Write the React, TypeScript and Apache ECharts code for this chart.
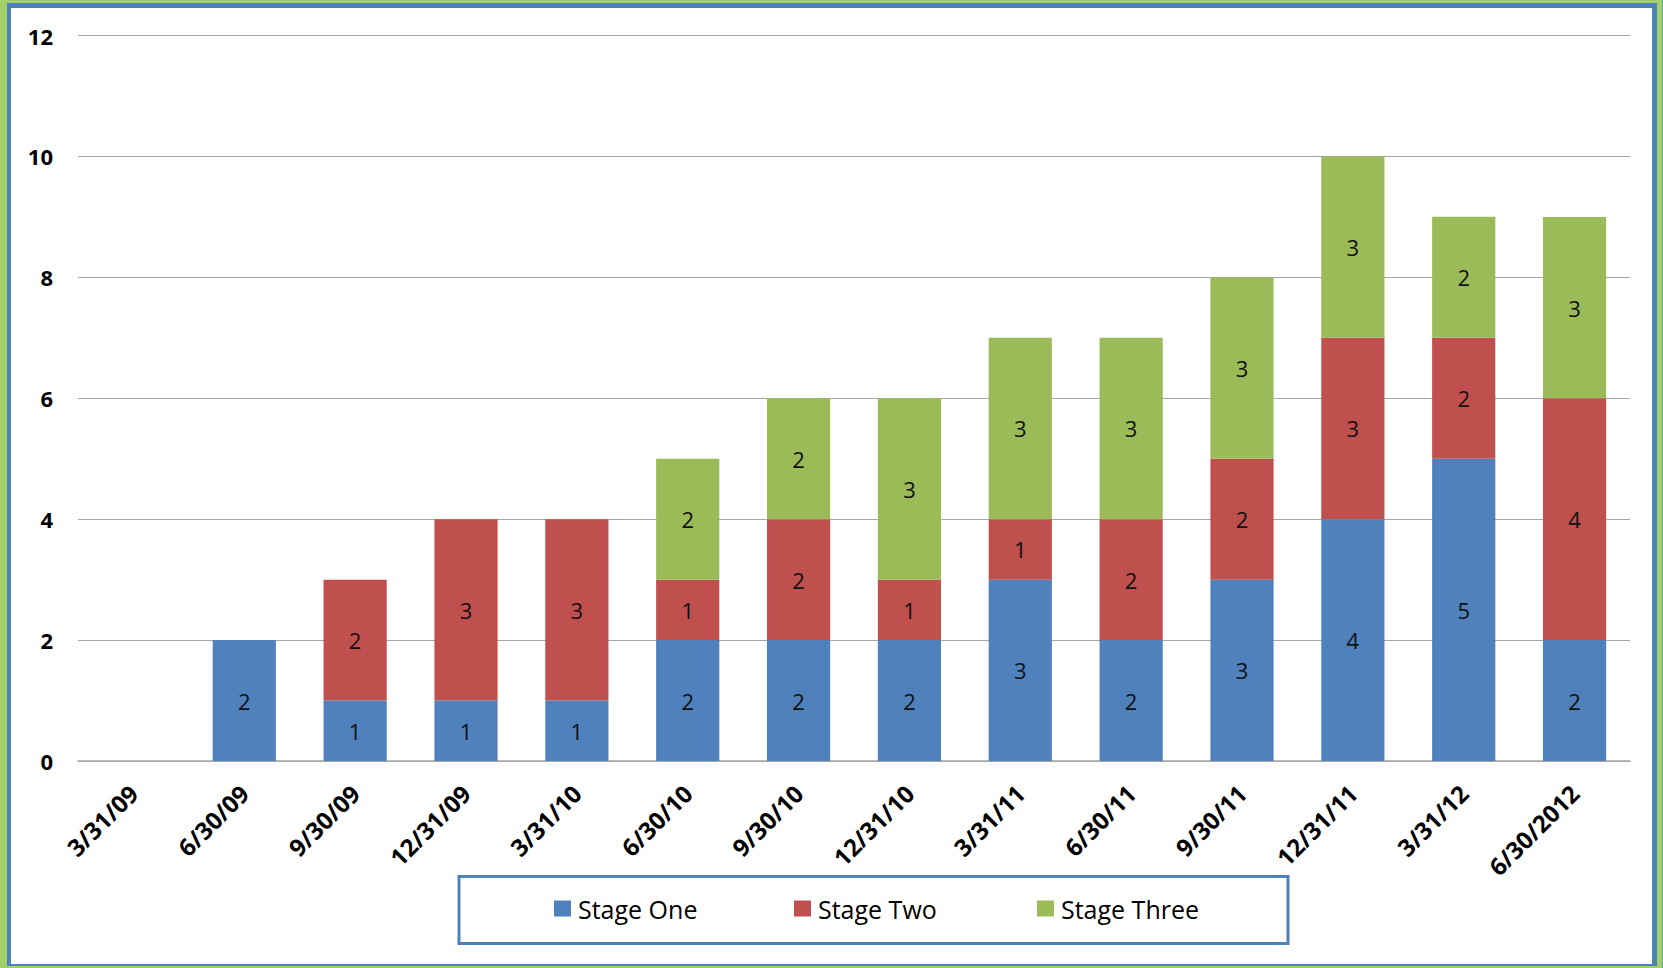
import React, { useEffect, useRef } from "react";
import * as echarts from "echarts";

const categories = [
  "3/31/09", "6/30/09", "9/30/09", "12/31/09", "3/31/10", "6/30/10", "9/30/10",
  "12/31/10", "3/31/11", "6/30/11", "9/30/11", "12/31/11", "3/31/12", "6/30/2012",
];
const stageOne = [0, 2, 1, 1, 1, 2, 2, 2, 3, 2, 3, 4, 5, 2];
const stageTwo = [0, 0, 2, 3, 3, 1, 2, 1, 1, 2, 2, 3, 2, 4];
const stageThree = [0, 0, 0, 0, 0, 2, 2, 3, 3, 3, 3, 3, 2, 3];
const seriesNames = ["Stage One", "Stage Two", "Stage Three"];
const yTicks = { min: 0, max: 12, interval: 2 };

const COLORS = ["#4F81BD", "#C0504D", "#9BBB59"];
const FONT = "'Open Sans', 'Noto Sans', sans-serif";

export default function App() {
  const ref = useRef<HTMLDivElement>(null);
  useEffect(() => {
    if (!ref.current) return;
    const chart = echarts.init(ref.current, undefined, { renderer: "svg" });
    const values = [stageOne, stageTwo, stageThree];
    const legendLefts = [554, 794, 1037];
    chart.setOption({
      animation: false,
      textStyle: { fontFamily: FONT },
      grid: { left: 78, right: 33, top: 35.5, bottom: 207, containLabel: false },
      xAxis: {
        type: "category",
        data: categories,
        axisLine: { lineStyle: { color: "#a6a6a6", width: 1.5 } },
        axisTick: { show: false },
        axisLabel: {
          rotate: 45,
          interval: 0,
          margin: 28,
          color: "#000",
          fontWeight: "bold",
          fontSize: 24,
          fontFamily: FONT,
        },
      },
      yAxis: {
        type: "value",
        min: yTicks.min,
        max: yTicks.max,
        interval: yTicks.interval,
        axisLine: { show: false },
        axisTick: { show: false },
        splitLine: { lineStyle: { color: "#a6a6a6", width: 1.2 } },
        axisLabel: {
          margin: 25,
          color: "#000",
          fontWeight: "bold",
          fontSize: 22,
          fontFamily: FONT,
        },
      },
      legend: seriesNames.map((n, i) => ({
        data: [n],
        left: legendLefts[i],
        top: 896,
        padding: 0,
        itemWidth: 17,
        itemHeight: 16,
        icon: "rect",
        textStyle: { color: "#000", fontSize: 25, fontFamily: FONT, padding: [0, 0, 0, 2] },
        selectedMode: false,
      })),
      graphic: [
        {
          type: "rect",
          shape: { x: 459, y: 876.5, width: 829, height: 67 },
          style: { fill: "none", stroke: "#4F81BD", lineWidth: 3 },
        },
      ],
      series: seriesNames.map((n, i) => ({
        name: n,
        type: "bar",
        stack: "total",
        barWidth: "57%",
        itemStyle: { color: COLORS[i] },
        label: {
          show: true,
          position: "inside",
          color: "#111",
          fontSize: 22,
          fontFamily: FONT,
          formatter: (p: any) => (p.value ? String(p.value) : ""),
        },
        data: values[i],
      })),
    });
    return () => chart.dispose();
  }, []);
  return (
    <div style={{ position: "fixed", left: 0, top: 0, width: 1663, height: 968, background: "#a3cf6a" }}>
      <div
        style={{
          position: "absolute",
          left: 7,
          top: 3,
          width: 1650,
          height: 963,
          background: "#fff",
          borderLeft: "4px solid #4F81BD",
          borderTop: "5px solid #4F81BD",
          borderRight: "5px solid #4F81BD",
          borderBottom: "2px solid #4F81BD",
          boxSizing: "border-box",
        }}
      />
      <div
        style={{
          position: "absolute",
          left: 1662,
          top: 0,
          width: 1,
          height: 968,
          background: "#5aa5a0",
        }}
      />
      <div ref={ref} style={{ position: "absolute", left: 0, top: 0, width: 1663, height: 968 }} />
    </div>
  );
}
